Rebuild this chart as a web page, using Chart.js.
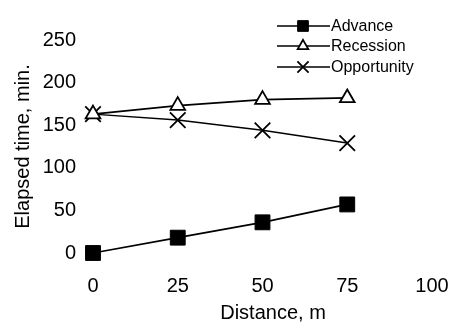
<!DOCTYPE html>
<html>
<head>
<meta charset="utf-8">
<script src="https://cdn.jsdelivr.net/npm/chart.js@4/dist/chart.umd.min.js"></script>
<style>
  html, body { margin: 0; padding: 0; background: #fff; }
  #wrap { width: 449px; height: 324px; }
</style>
</head>
<body>
<div id="wrap"><canvas id="c" width="449" height="324"></canvas></div>
<script>
// Distance along the furrow (m) and elapsed times (min)
const distances = [0, 25, 50, 75];
const advance = [0, 18, 36, 57];
const recession = [163, 173, 180, 182];
const opportunity = [163, 156, 144, 129];
const seriesNames = ['Advance', 'Recession', 'Opportunity'];
const xTicks = [0, 25, 50, 75, 100];
const yTicks = [0, 50, 100, 150, 200, 250];
const xTitle = 'Distance, m';
const yTitle = 'Elapsed time, min.';

const FONT = '"Liberation Sans", Arial, Helvetica, sans-serif';

function pts(ys) { return distances.map((d, i) => ({ x: d, y: ys[i] })); }

const datasets = [
  { label: seriesNames[0], data: pts(advance), pointStyle: 'rect', pointRadius: 10.5,
    backgroundColor: '#000', borderColor: '#000', borderWidth: 1.7, pointBorderWidth: 1 },
  { label: seriesNames[1], data: pts(recession), pointStyle: 'triangle', pointRadius: 8.5,
    backgroundColor: '#fff', borderColor: '#000', borderWidth: 1.7, pointBorderWidth: 1.8 },
  { label: seriesNames[2], data: pts(opportunity), pointStyle: 'crossRot', pointRadius: 11,
    backgroundColor: '#000', borderColor: '#000', borderWidth: 1.5, pointBorderWidth: 1.8 }
].map(d => Object.assign(d, { showLine: true, tension: 0, clip: false, pointHoverRadius: d.pointRadius }));

// Legend in the upper right (line, marker, name) and the x-axis title
const annotatePlugin = {
  id: 'annotate',
  afterDraw(chart) {
    const ctx = chart.ctx;
    const rows = [26, 46, 67];
    ctx.save();
    chart.data.datasets.forEach((ds, i) => {
      const y = rows[i];
      ctx.strokeStyle = '#000';
      ctx.lineWidth = 1.4;
      ctx.beginPath();
      ctx.moveTo(277, y);
      ctx.lineTo(330, y);
      ctx.stroke();
      ctx.fillStyle = ds.backgroundColor;
      ctx.lineWidth = ds.pointBorderWidth;
      Chart.helpers.drawPoint(ctx, { pointStyle: ds.pointStyle, radius: ds.pointRadius * 0.72, rotation: 0, borderWidth: ds.pointBorderWidth }, 303, y);
      ctx.fillStyle = '#000';
      ctx.font = '16px ' + FONT;
      ctx.textAlign = 'left';
      ctx.textBaseline = 'middle';
      ctx.fillText(ds.label, 331, y + 1);
    });
    ctx.font = '20px ' + FONT;
    ctx.textAlign = 'center';
    ctx.textBaseline = 'middle';
    ctx.fillText(xTitle, 273, 313);
    ctx.restore();
  }
};

new Chart(document.getElementById('c'), {
  type: 'scatter',
  data: { datasets },
  options: {
    responsive: false,
    animation: false,
    devicePixelRatio: 1,
    layout: { padding: { top: 40, right: 17, left: 0, bottom: 0 } },
    plugins: { legend: { display: false }, tooltip: { enabled: false } },
    scales: {
      x: {
        type: 'linear', min: 0, max: 100,
        grid: { display: false, drawTicks: false },
        border: { display: false },
        afterBuildTicks: s => { s.ticks = xTicks.map(v => ({ value: v })); },
        afterFit: s => { s.height = 71; s.paddingRight = 0; s.paddingLeft = 0; },
        ticks: { color: '#000', font: { family: FONT, size: 20 }, padding: 21, maxRotation: 0 }
      },
      y: {
        type: 'linear', min: 0, max: 250,
        grid: { display: false, drawTicks: false },
        border: { display: false },
        afterBuildTicks: s => { s.ticks = yTicks.map(v => ({ value: v })); },
        afterFit: s => { s.width = 93; s.paddingTop = 0; s.paddingBottom = 0; },
        ticks: { color: '#000', font: { family: FONT, size: 20 }, padding: 17 },
        title: { display: true, text: yTitle, color: '#000', font: { family: FONT, size: 20 }, padding: { top: 11, bottom: 0 } }
      }
    }
  },
  plugins: [annotatePlugin]
});
</script>
</body>
</html>
